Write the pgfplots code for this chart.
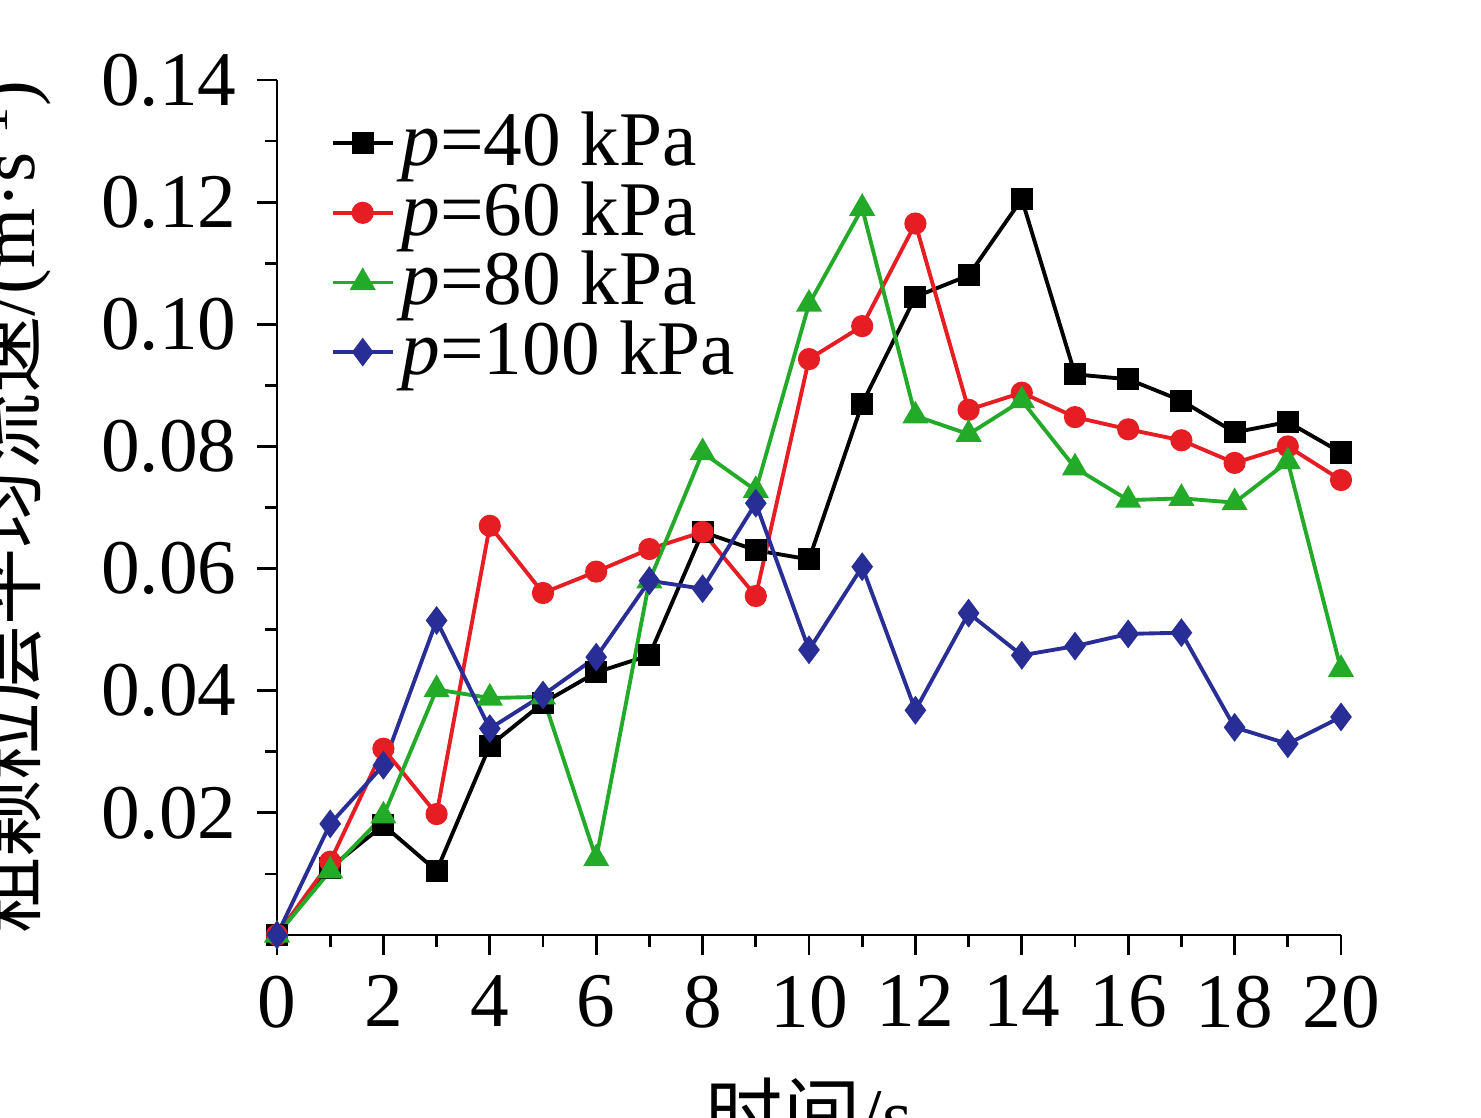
\documentclass[border=0pt]{standalone}
\usepackage{pgfplots}
\pgfplotsset{compat=1.18}
\usepackage{fontspec}
\setmainfont{Liberation Serif}
\newfontfamily\cjk{Noto Sans CJK SC}
\definecolor{cR}{RGB}{230,30,36}
\definecolor{cG}{RGB}{34,170,40}
\definecolor{cB}{RGB}{40,46,150}
\begin{document}
\fontsize{17}{20}\selectfont
\begin{tikzpicture}
\useasboundingbox (0,0) rectangle (14.81cm,11.17cm);
\begin{axis}[at={(2.77cm,1.82cm)},anchor=south west,scale only axis,
 width=10.64cm,height=8.55cm,
 xmin=0,xmax=20,ymin=0,ymax=0.14,
 axis lines=left, axis line style={-,line width=0.8pt},
 xtick={0,2,...,20}, minor xtick={1,3,...,19},
 ytick={0.02,0.04,...,0.14}, minor ytick={0.01,0.03,...,0.13},
 tick align=outside, major tick length=0.2cm, minor tick length=0.12cm,
 tick style={black,line width=0.8pt},
 /pgf/number format/assume math mode=true,
 yticklabel style={/pgf/number format/.cd,fixed,fixed zerofill,precision=2},
 scaled y ticks=false,
 ticklabel style={font=\fontsize{22}{24}\selectfont},
 xlabel={\cjk 时间\rmfamily/s}, ylabel={\cjk 粗颗粒层平均流速\rmfamily/(m·s\textsuperscript{-1})},
 label style={font=\fontsize{22}{24}\selectfont},
 xlabel style={yshift=-0.1cm}, ylabel style={yshift=0.1cm},
 legend style={draw=none,fill=none,at={(0.04,0.98)},anchor=north west,font=\fontsize{22}{24}\selectfont,row sep=-2pt},
 legend cell align=left,
 every axis plot/.append style={line width=1.1pt,mark size=2.6pt},
 clip=false]
\addplot[black,mark=square*] coordinates {(0,0)(1,0.011)(2,0.018)(3,0.0105)(4,0.031)(5,0.038)(6,0.043)(7,0.0458)(8,0.066)(9,0.063)(10,0.0615)(11,0.087)(12,0.1045)(13,0.108)(14,0.1205)(15,0.0918)(16,0.091)(17,0.0875)(18,0.0823)(19,0.084)(20,0.079)};
\addplot[cR,mark=*] coordinates {(0,0)(1,0.012)(2,0.0305)(3,0.0198)(4,0.067)(5,0.056)(6,0.0595)(7,0.0632)(8,0.066)(9,0.0555)(10,0.0943)(11,0.0997)(12,0.1165)(13,0.086)(14,0.0888)(15,0.0848)(16,0.0828)(17,0.081)(18,0.0773)(19,0.080)(20,0.0745)};
\addplot[cG,mark=triangle*,mark size=3.2pt] coordinates {(0,0)(1,0.0105)(2,0.0195)(3,0.0402)(4,0.0388)(5,0.039)(6,0.0125)(7,0.058)(8,0.079)(9,0.0728)(10,0.1033)(11,0.119)(12,0.085)(13,0.082)(14,0.0875)(15,0.0765)(16,0.0712)(17,0.0715)(18,0.0708)(19,0.0775)(20,0.0435)};
\addplot[cB,mark=diamond*,mark size=3.2pt] coordinates {(0,0)(1,0.0182)(2,0.0278)(3,0.0515)(4,0.0338)(5,0.0393)(6,0.0455)(7,0.058)(8,0.0567)(9,0.0707)(10,0.0467)(11,0.0603)(12,0.0368)(13,0.0527)(14,0.0458)(15,0.0473)(16,0.0493)(17,0.0495)(18,0.034)(19,0.0313)(20,0.0357)};
\legend{\textit{p}=40 kPa,\textit{p}=60 kPa,\textit{p}=80 kPa,\textit{p}=100 kPa}
\end{axis}
\end{tikzpicture}
\end{document}
